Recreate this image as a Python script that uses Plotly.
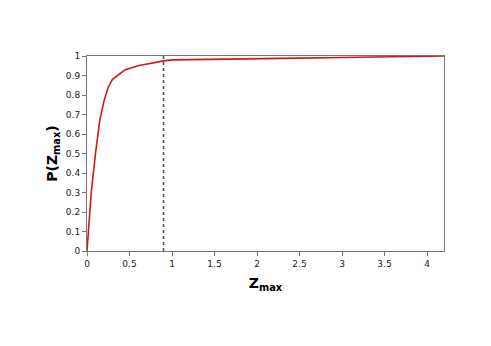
import plotly.graph_objects as go

# CDF of Z_max
z_max = [0, 0.05, 0.1, 0.15, 0.2, 0.25, 0.3, 0.45, 0.6, 0.75, 0.9, 1.0, 1.5, 2.0, 2.5, 3.0, 3.5, 4.2]
p_z = [0, 0.3, 0.5, 0.67, 0.77, 0.84, 0.88, 0.93, 0.95, 0.963, 0.975, 0.98, 0.982, 0.985, 0.989, 0.992, 0.996, 1.0]

threshold = 0.9
x_ticks = [0, 0.5, 1, 1.5, 2, 2.5, 3, 3.5, 4]
y_ticks = [0, 0.1, 0.2, 0.3, 0.4, 0.5, 0.6, 0.7, 0.8, 0.9, 1]

fig = go.Figure()

# ligne verticale pointillée au seuil
fig.add_trace(go.Scatter(
    x=[threshold, threshold], y=[0, 1],
    mode='lines',
    line=dict(color='#555555', width=1.6, dash='dot'),
    showlegend=False, hoverinfo='skip'
))

# courbe rouge
fig.add_trace(go.Scatter(
    x=z_max, y=p_z,
    mode='lines',
    line=dict(color='#d01818', width=1.6),
    showlegend=False
))

axis_common = dict(
    showgrid=False,
    zeroline=False,
    showline=True,
    linecolor='#777777',
    linewidth=1,
    mirror=True,
    ticks='outside',
    ticklen=4,
    tickcolor='#777777',
    tickfont=dict(family='DejaVu Sans', size=9, color='#222222'),
)

fig.update_layout(
    width=491, height=346,
    margin=dict(l=79, r=55, t=48, b=103),
    paper_bgcolor='white',
    plot_bgcolor='white',
    xaxis=dict(
        axis_common,
        range=[0, 4.2],
        tickvals=x_ticks,
        title=dict(text='<b>Z<sub>max</sub></b>', font=dict(family='DejaVu Sans', size=14, color='black'), standoff=10),
    ),
    yaxis=dict(
        axis_common,
        range=[0, 1],
        tickvals=y_ticks,
        title=dict(text='<b>P(Z<sub>max</sub>)</b>', font=dict(family='DejaVu Sans', size=14, color='black'), standoff=4),
    ),
)

fig.write_html("out.html")
